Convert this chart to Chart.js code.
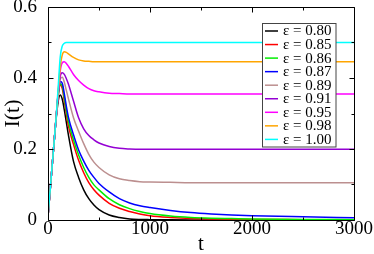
<!DOCTYPE html>
<html><head><meta charset="utf-8">
<script src="https://cdn.jsdelivr.net/npm/chart.js@4/dist/chart.umd.min.js"></script>
<style>html,body{margin:0;padding:0;background:#fff}#c{display:block}</style>
</head><body>
<canvas id="c" width="374" height="254"></canvas>
<script>
const t = [0,20,40,60,80,100,120,140,160,180,200,250,300,350,400,450,500,600,700,800,900,1000,1200,1400,1600,1800,2000,2500,3000];
const eps080 = [0.01,0.08,0.15,0.22,0.285,0.335,0.352,0.34,0.31,0.275,0.24,0.165,0.12,0.085,0.06,0.042,0.029,0.014,0.007,0.003,0.0015,0.001,0.0005,0.0002,0.0001,0,0,0,0];
const eps085 = [0.01,0.08,0.15,0.22,0.29,0.35,0.38,0.37,0.335,0.298,0.265,0.213,0.168,0.133,0.105,0.085,0.07,0.047,0.033,0.024,0.017,0.012,0.007,0.004,0.003,0.002,0.0015,0.001,0.0005];
const eps086 = [0.01,0.08,0.15,0.22,0.29,0.352,0.384,0.378,0.345,0.308,0.277,0.226,0.183,0.148,0.12,0.099,0.085,0.06,0.043,0.032,0.024,0.018,0.011,0.007,0.005,0.004,0.003,0.0015,0.001];
const eps087 = [0.01,0.08,0.15,0.22,0.29,0.353,0.39,0.385,0.355,0.32,0.29,0.24,0.197,0.166,0.14,0.12,0.103,0.079,0.06,0.048,0.04,0.035,0.027,0.021,0.017,0.014,0.012,0.009,0.0065];
const eps089 = [0.01,0.08,0.15,0.22,0.29,0.355,0.397,0.402,0.388,0.365,0.342,0.288,0.25,0.215,0.185,0.163,0.148,0.127,0.116,0.111,0.108,0.107,0.106,0.105,0.105,0.105,0.105,0.105,0.105];
const eps091 = [0.01,0.08,0.15,0.22,0.29,0.358,0.405,0.415,0.41,0.398,0.383,0.335,0.288,0.257,0.238,0.226,0.217,0.207,0.202,0.2,0.199,0.199,0.199,0.199,0.199,0.199,0.199,0.199,0.199];
const eps095 = [0.01,0.08,0.15,0.22,0.29,0.36,0.42,0.443,0.446,0.441,0.433,0.41,0.393,0.38,0.37,0.364,0.361,0.357,0.356,0.355,0.355,0.355,0.355,0.355,0.355,0.355,0.355,0.355,0.355];
const eps098 = [0.01,0.08,0.15,0.22,0.29,0.363,0.43,0.465,0.474,0.472,0.468,0.458,0.451,0.448,0.447,0.446,0.446,0.446,0.446,0.446,0.446,0.446,0.446,0.446,0.446,0.446,0.446,0.446,0.446];
const eps100 = [0.01,0.08,0.15,0.22,0.29,0.375,0.46,0.49,0.498,0.5,0.5,0.5,0.5,0.5,0.5,0.5,0.5,0.5,0.5,0.5,0.5,0.5,0.5,0.5,0.5,0.5,0.5,0.5,0.5];

const seriesLabels = ['ε = 0.80','ε = 0.85','ε = 0.86','ε = 0.87','ε = 0.89','ε = 0.91','ε = 0.95','ε = 0.98','ε = 1.00'];
const seriesValues = [eps080,eps085,eps086,eps087,eps089,eps091,eps095,eps098,eps100];
const seriesColors = ['#000000','#ff0000','#00ee00','#0000ff','#bc8f8f','#9400d3','#ff00ff','#ffa500','#00ffff'];

const xMajor = [0,1000,2000,3000];
const xMinor = [500,1500,2500];
const yMajor = [0,0.2,0.4,0.6];
const yMinor = [0.1,0.3,0.5];

const FONT = "'Liberation Serif', 'DejaVu Serif', serif";

const frameTicks = {
  id:'frameTicks',
  afterDatasetsDraw(chart){
    const {ctx, chartArea:a, scales:{x,y}} = chart;
    ctx.save();
    ctx.strokeStyle = '#000';
    ctx.lineWidth = 1;
    ctx.beginPath();
    const L = Math.round(a.left)+0.5, R = Math.round(a.right)+0.5, T = Math.round(a.top)+0.5, B = Math.round(a.bottom)+0.5;
    ctx.rect(L, T, R-L, B-T);
    ctx.stroke();
    ctx.beginPath();
    const tk = (arr, len, horiz) => {
      arr.forEach(v=>{
        if (horiz){
          const px = Math.round(x.getPixelForValue(v))+0.5;
          ctx.moveTo(px,B); ctx.lineTo(px,B-len);
          ctx.moveTo(px,T); ctx.lineTo(px,T+len);
        } else {
          const py = Math.round(y.getPixelForValue(v))+0.5;
          ctx.moveTo(L,py); ctx.lineTo(L+len,py);
          ctx.moveTo(R,py); ctx.lineTo(R-len,py);
        }
      });
    };
    tk(xMajor,5,true); tk(xMinor,3,true); tk(yMajor,5,false); tk(yMinor,3,false);
    ctx.stroke();
    // legend
    const bx = 262.5, by = 23.5, bw = 73.5, bh = 123.5;
    ctx.fillStyle = '#fff';
    ctx.fillRect(bx,by,bw,bh);
    ctx.strokeStyle = '#444';
    ctx.strokeRect(bx,by,bw,bh);
    ctx.font = "15px " + FONT;
    ctx.textBaseline = 'middle';
    ctx.textAlign = 'left';
    chart.data.datasets.forEach((ds,i)=>{
      const yy = 31 + i*13.55;
      ctx.strokeStyle = ds.borderColor;
      ctx.lineWidth = 1.5;
      ctx.beginPath(); ctx.moveTo(265,yy); ctx.lineTo(278,yy); ctx.stroke();
      ctx.fillStyle = '#000';
      ctx.fillText(ds.label, 283, yy+0.5);
    });
    ctx.restore();
  }
};

new Chart(document.getElementById('c'), {
  type:'line',
  data:{
    datasets: seriesLabels.map((lab,i)=>({
      label: lab,
      data: t.map((tv,j)=>({x:tv, y:seriesValues[i][j]})),
      borderColor: seriesColors[i],
      backgroundColor: seriesColors[i],
      borderWidth: 1.5,
      pointRadius: 0,
      fill:false,
      cubicInterpolationMode:'monotone',
      order: seriesLabels.length - i
    }))
  },
  options:{
    responsive:false,
    animation:false,
    layout:{padding:{top:7,right:20,left:0,bottom:0}},
    plugins:{legend:{display:false}, tooltip:{enabled:false}},
    scales:{
      x:{
        type:'linear', min:0, max:3000,
        afterBuildTicks: s => { s.ticks = xMajor.map(v=>({value:v})); },
        afterFit: s => { s.height = 34; s.paddingLeft = 0; s.paddingRight = 0; },
        grid:{display:false},
        border:{display:false},
        ticks:{color:'#000', padding:-8, maxRotation:0, font:{family:FONT, size:19, lineHeight:1}, callback:v=>String(v)},
        title:{display:true, text:'t', color:'#000', font:{family:FONT, size:21, lineHeight:1}, padding:{top:0,bottom:-1}}
      },
      y:{
        type:'linear', min:0, max:0.6,
        afterBuildTicks: s => { s.ticks = yMajor.map(v=>({value:v})); },
        afterFit: s => { s.width = 48; s.paddingTop = 0; s.paddingBottom = 0; },
        grid:{display:false},
        border:{display:false},
        ticks:{color:'#000', padding:3, font:{family:FONT, size:19}, callback:v=>String(v)},
        title:{display:true, text:'I(t)', color:'#000', font:{family:FONT, size:22, lineHeight:1}, padding:{top:2,bottom:0}}
      }
    }
  },
  plugins:[frameTicks]
});
</script>
</body></html>
